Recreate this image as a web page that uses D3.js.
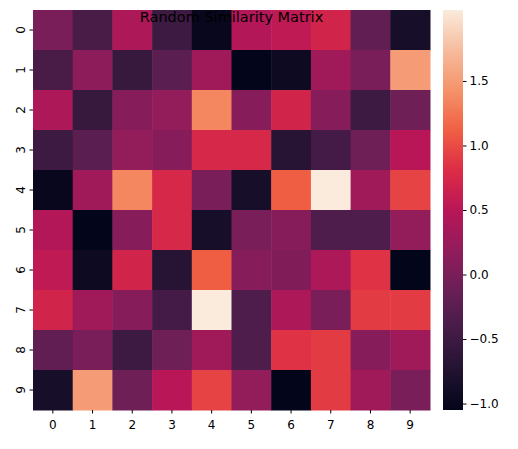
<!DOCTYPE html>
<html><head><meta charset="utf-8">
<script src="https://cdn.jsdelivr.net/npm/d3@7"></script>
<style>body{margin:0;background:#fff;font-family:"DejaVu Sans",sans-serif;}</style>
</head><body><svg width="518" height="449"></svg>
<script>
const labels = ['0','1','2','3','4','5','6','7','8','9'];
const values = [
  [0.0,-0.4,0.4,-0.5,-1.0,0.45,0.55,0.7,-0.2,-0.85],
  [-0.4,0.15,-0.55,-0.25,0.3,-1.05,-0.95,0.3,0.0,1.5],
  [0.4,-0.55,0.1,0.2,1.35,0.1,0.7,0.1,-0.5,-0.1],
  [-0.5,-0.25,0.2,0.1,0.75,0.75,-0.7,-0.45,-0.1,0.5],
  [-1.0,0.3,1.35,0.75,0.0,-0.85,1.1,2.05,0.3,0.95],
  [0.45,-1.05,0.1,0.75,-0.85,0.0,0.1,-0.35,-0.35,0.2],
  [0.55,-0.95,0.7,-0.7,1.1,0.1,0.05,0.4,0.85,-1.05],
  [0.7,0.3,0.1,-0.45,2.05,-0.35,0.4,0.0,0.9,0.9],
  [-0.2,0.0,-0.5,-0.1,0.3,-0.35,0.85,0.9,0.1,0.3],
  [-0.85,1.5,-0.1,0.5,0.95,0.2,-1.05,0.9,0.3,0.0]
];
const cbTicks = [-1.0,-0.5,0.0,0.5,1.0,1.5];
const vmin = -1.05, vmax = 2.05;

const rocketStops = ['#03051A','#221331','#451C47','#6A1F56','#921C5B','#B91657','#DD2C45','#F06043','#F5936A','#F6BC9D','#FAEBDD'];
const rocket = d3.scaleLinear().domain(d3.range(11).map(i => i/10)).range(rocketStops).interpolate(d3.interpolateRgb);
const color = v => rocket((v - vmin) / (vmax - vmin));

const svg = d3.select('svg');
const mLeft = 33, mTop = 10, w = 397, h = 400;
const x = d3.scaleBand().domain(labels).range([mLeft, mLeft + w]);
const y = d3.scaleBand().domain(labels).range([mTop, mTop + h]);

values.forEach((row, i) => row.forEach((v, j) => {
  svg.append('rect').attr('x', x(labels[j])).attr('y', y(labels[i]))
    .attr('width', x.bandwidth() + 0.5).attr('height', y.bandwidth() + 0.5)
    .attr('fill', color(v));
}));

const ax = svg.append('g').attr('transform', `translate(0,${mTop + h})`).call(d3.axisBottom(x).tickSize(3.5));
const ay = svg.append('g').attr('transform', `translate(${mLeft},0)`).call(d3.axisLeft(y).tickSize(3.5));
[ax, ay].forEach(a => { a.select('.domain').remove(); a.selectAll('text').attr('font-size', 12).attr('fill', '#000').attr('font-family', 'DejaVu Sans'); });
ax.selectAll('text').attr('dy', '1.0em');
ay.selectAll('text').attr('x', -12).attr('dy', '0.35em').attr('text-anchor', 'middle')
  .attr('transform', 'rotate(-90,-12,0)');

svg.append('text').attr('x', mLeft + w/2).attr('y', 22).attr('text-anchor', 'middle')
  .attr('font-size', 14.5).text('Random Similarity Matrix');

// colorbar
const cbX = 443, cbW = 20;
const cy = d3.scaleLinear().domain([vmin, vmax]).range([mTop + h, mTop]);
const defs = svg.append('defs');
const grad = defs.append('linearGradient').attr('id', 'g').attr('x1', 0).attr('y1', 1).attr('x2', 0).attr('y2', 0);
rocketStops.forEach((c, i) => grad.append('stop').attr('offset', i/10).attr('stop-color', c));
svg.append('rect').attr('x', cbX).attr('y', mTop).attr('width', cbW).attr('height', h).attr('fill', 'url(#g)');
const cb = svg.append('g').attr('transform', `translate(${cbX + cbW},0)`)
  .call(d3.axisRight(cy).tickValues(cbTicks).tickFormat(d3.format('.1f')).tickSize(3.5));
cb.select('.domain').remove();
cb.selectAll('text').attr('font-size', 12).attr('fill', '#000').attr('font-family', 'DejaVu Sans').text(d => d3.format('.1f')(d).replace('-', '−'));
</script></body></html>
